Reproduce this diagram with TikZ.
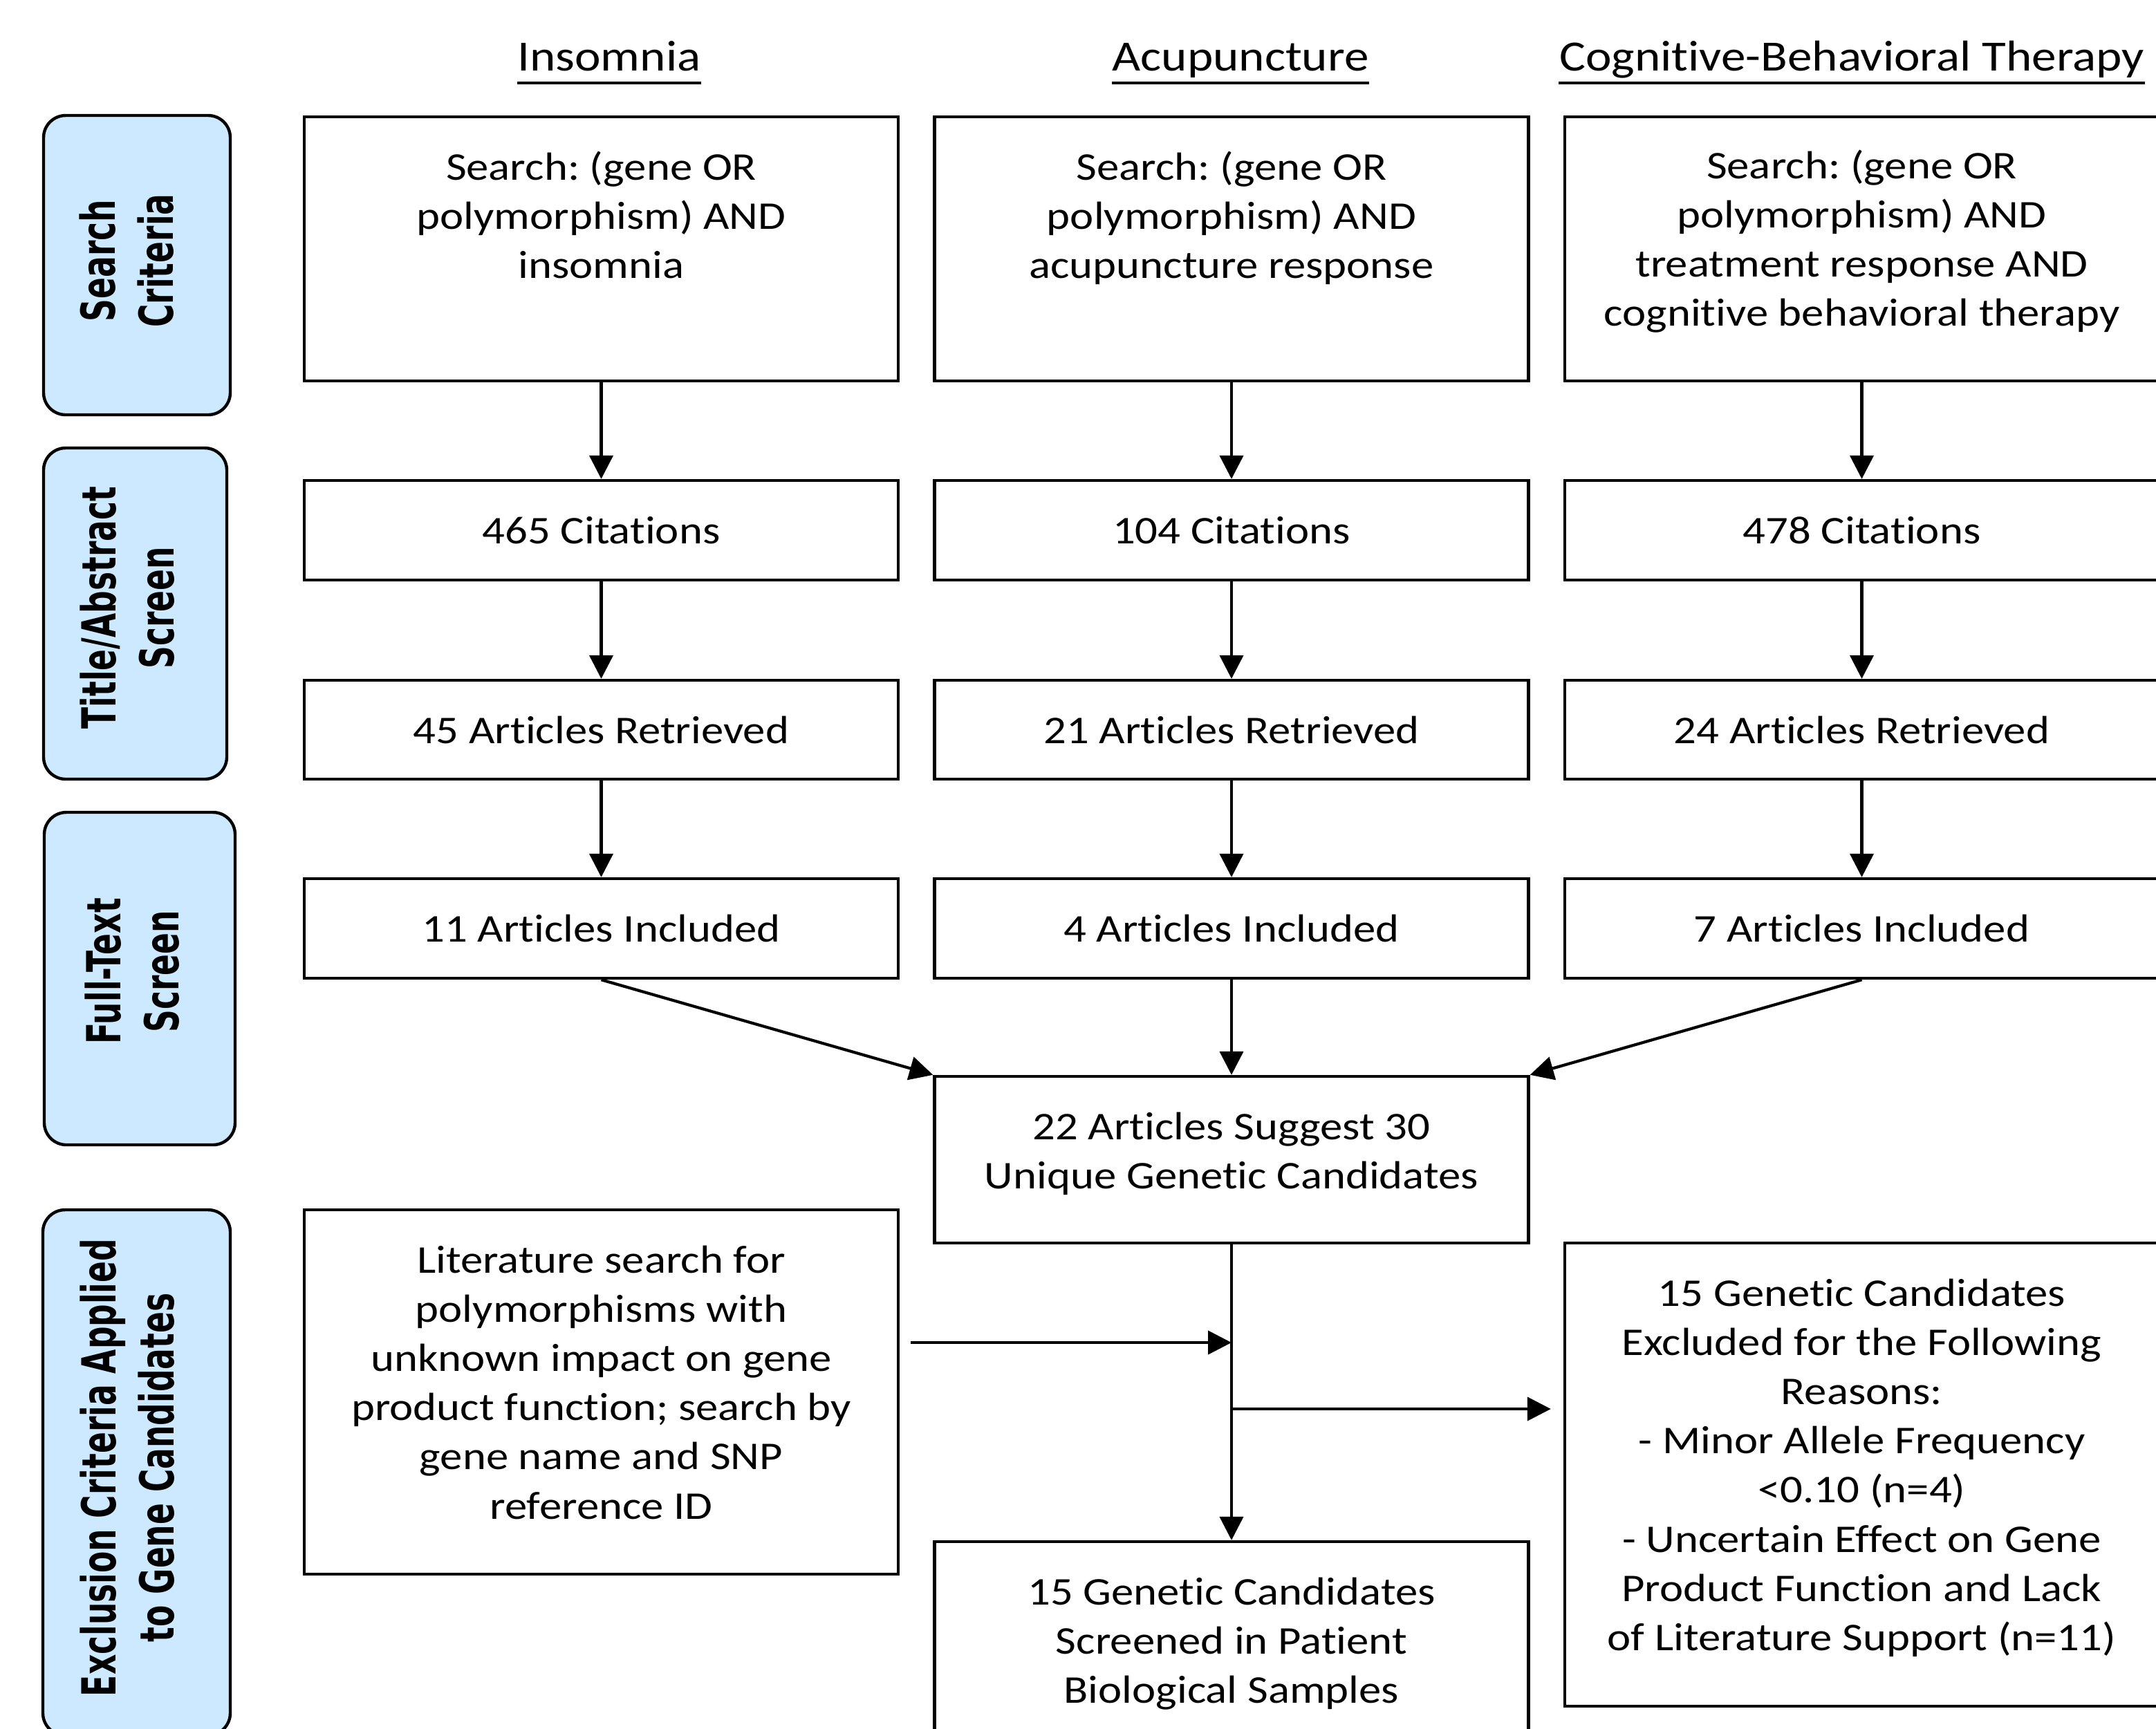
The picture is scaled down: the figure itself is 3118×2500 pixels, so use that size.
\documentclass[tikz,border=0pt]{standalone}
\usepackage{fontspec}
\setmainfont{Carlito}[FakeStretch=1.14, Ligatures={NoCommon}]
\newfontfamily\lblfont{DejaVu Sans}[FakeStretch=0.67]
\usetikzlibrary{arrows.meta,calc}
\definecolor{lblue}{RGB}{204,233,255}
\newcommand\mystrut{\rule{0pt}{12pt}}
\frenchspacing
\begin{document}
\begin{tikzpicture}[x=0.25pt,y=-0.25pt,
  box/.style={draw, line width=1.1pt, rectangle, inner sep=0pt, minimum width=214.75pt},
  txt/.style={inner sep=0pt, align=center, anchor=north, font=\fontsize{14.2}{17.8}\selectfont},
  side/.style={draw, line width=1.1pt, fill=lblue, rounded corners=8pt, inner sep=0pt},
  sidetxt/.style={rotate=90, inner sep=0pt, align=center, font=\lblfont\bfseries\fontsize{17}{21}\selectfont},
  hdr/.style={inner sep=0pt, anchor=base, font=\fontsize{15.6}{18}\selectfont},
  arr/.style={-{Triangle[length=8.5pt,width=8.5pt]}, line width=1.05pt},
]
\useasboundingbox (0,0) rectangle (3118,2500);

% headers
\node[hdr] (h1) at (881,102) {Insomnia};
\node[hdr] (h2) at (1794,102) {Acupuncture};
\node[hdr] (h3) at (2678,102) {Cognitive-Behavioral Therapy};
\foreach \h in {h1,h2,h3}{\draw[line width=1pt] ([yshift=-4.5pt]\h.base west) -- ([yshift=-4.5pt]\h.base east);}

% side labels
\node[side, minimum width=67.5pt, minimum height=108.25pt] (sl1) at (198,383.5) {};
\node[side, minimum width=66.25pt, minimum height=119.75pt] (sl2) at (195.5,887.5) {};
\node[side, minimum width=69pt, minimum height=120.25pt] (sl3) at (202,1415.5) {};
\node[side, minimum width=67.75pt, minimum height=190pt] (sl4) at (197.5,2130) {};
\node[sidetxt] (sl1t) at (183,377) {Search\\Criteria};
\node[sidetxt] (sl2t) at (184,879) {Title/Abstract\\Screen};
\node[sidetxt] (sl3t) at (191,1405) {Full-Text\\Screen};
\node[sidetxt] (sl4t) at (184,2123) {Exclusion Criteria Applied\\to Gene Candidates};

% row 1: search
\node[box, minimum height=95.5pt] (s1) at (869.5,360) {};
\node[box, minimum height=95.5pt] (s2) at (1781,360) {};
\node[box, minimum height=95.5pt] (s3) at (2692.5,360) {};
\node[txt] (s1t) at ([yshift=-11.1pt]s1.north) {\mystrut Search: (gene OR\\polymorphism) AND\\insomnia};
\node[txt] (s2t) at ([yshift=-11.1pt]s2.north) {\mystrut Search: (gene OR\\polymorphism) AND\\acupuncture response};
\node[txt] (s3t) at ([yshift=-10.6pt]s3.north) {\mystrut Search: (gene OR\\polymorphism) AND\\treatment response AND\\cognitive behavioral therapy};

% row 2: citations
\node[box, minimum height=36pt] (c1) at (869.5,767) {};
\node[box, minimum height=36pt] (c2) at (1781,767) {};
\node[box, minimum height=36pt] (c3) at (2692.5,767) {};
\node[txt] (c1t) at ([yshift=-11.1pt]c1.north) {\mystrut 465 Citations};
\node[txt] (c2t) at ([yshift=-11.1pt]c2.north) {\mystrut 104 Citations};
\node[txt] (c3t) at ([yshift=-11.1pt]c3.north) {\mystrut 478 Citations};

% row 3: retrieved
\node[box, minimum height=35.75pt] (r1) at (869.5,1055.5) {};
\node[box, minimum height=35.75pt] (r2) at (1781,1055.5) {};
\node[box, minimum height=35.75pt] (r3) at (2692.5,1055.5) {};
\node[txt] (r1t) at ([yshift=-11.1pt]r1.north) {\mystrut 45 Articles Retrieved};
\node[txt] (r2t) at ([yshift=-11.1pt]r2.north) {\mystrut 21 Articles Retrieved};
\node[txt] (r3t) at ([yshift=-11.1pt]r3.north) {\mystrut 24 Articles Retrieved};

% row 4: included
\node[box, minimum height=36pt] (i1) at (869.5,1343) {};
\node[box, minimum height=36pt] (i2) at (1781,1343) {};
\node[box, minimum height=36pt] (i3) at (2692.5,1343) {};
\node[txt] (i1t) at ([yshift=-11.1pt]i1.north) {\mystrut 11 Articles Included};
\node[txt] (i2t) at ([yshift=-11.1pt]i2.north) {\mystrut 4 Articles Included};
\node[txt] (i3t) at ([yshift=-11.1pt]i3.north) {\mystrut 7 Articles Included};

% lower part
\node[box, minimum height=60.25pt] (u) at (1781,1677.5) {};
\node[txt] (ut) at ([yshift=-11.1pt]u.north) {\mystrut 22 Articles Suggest 30\\Unique Genetic Candidates};
\node[box, minimum height=131.75pt] (lit) at (869.5,2013.5) {};
\node[txt] (litt) at ([yshift=-11.1pt]lit.north) {\mystrut Literature search for\\polymorphisms with\\unknown impact on gene\\product function; search by\\gene name and SNP\\reference ID};
\node[box, minimum height=167.5pt] (exc) at (2692.5,2133) {};
\node[txt] (exct) at ([yshift=-11.1pt]exc.north) {\mystrut 15 Genetic Candidates\\Excluded for the Following\\Reasons:\\- Minor Allele Frequency\\<0.10 (n=4)\\- Uncertain Effect on Gene\\Product Function and Lack\\of Literature Support (n=11)};
\node[box, minimum height=82.5pt] (scr) at (1781,2395) {};
\node[txt] (scrt) at ([yshift=-11.1pt]scr.north) {\mystrut 15 Genetic Candidates\\Screened in Patient\\Biological Samples};

% arrows
\foreach \a/\b in {s1/c1,s2/c2,s3/c3,c1/r1,c2/r2,c3/r3,r1/i1,r2/i2,r3/i3}{\draw[arr] (\a.south) -- (\b.north);}
\draw[arr] (i1.south) -- (u.north west);
\draw[arr] (i2.south) -- (u.north);
\draw[arr] (i3.south) -- (u.north east);
\draw[arr] (u.south) -- (scr.north);
\coordinate (litout) at (1317,1942);
\coordinate (br) at (1781,2038);
\draw[arr] (litout) -- (litout -| u.south);
\draw[arr, shorten >=4.5pt] (br) -- (br -| exc.west);
\end{tikzpicture}
\end{document}
